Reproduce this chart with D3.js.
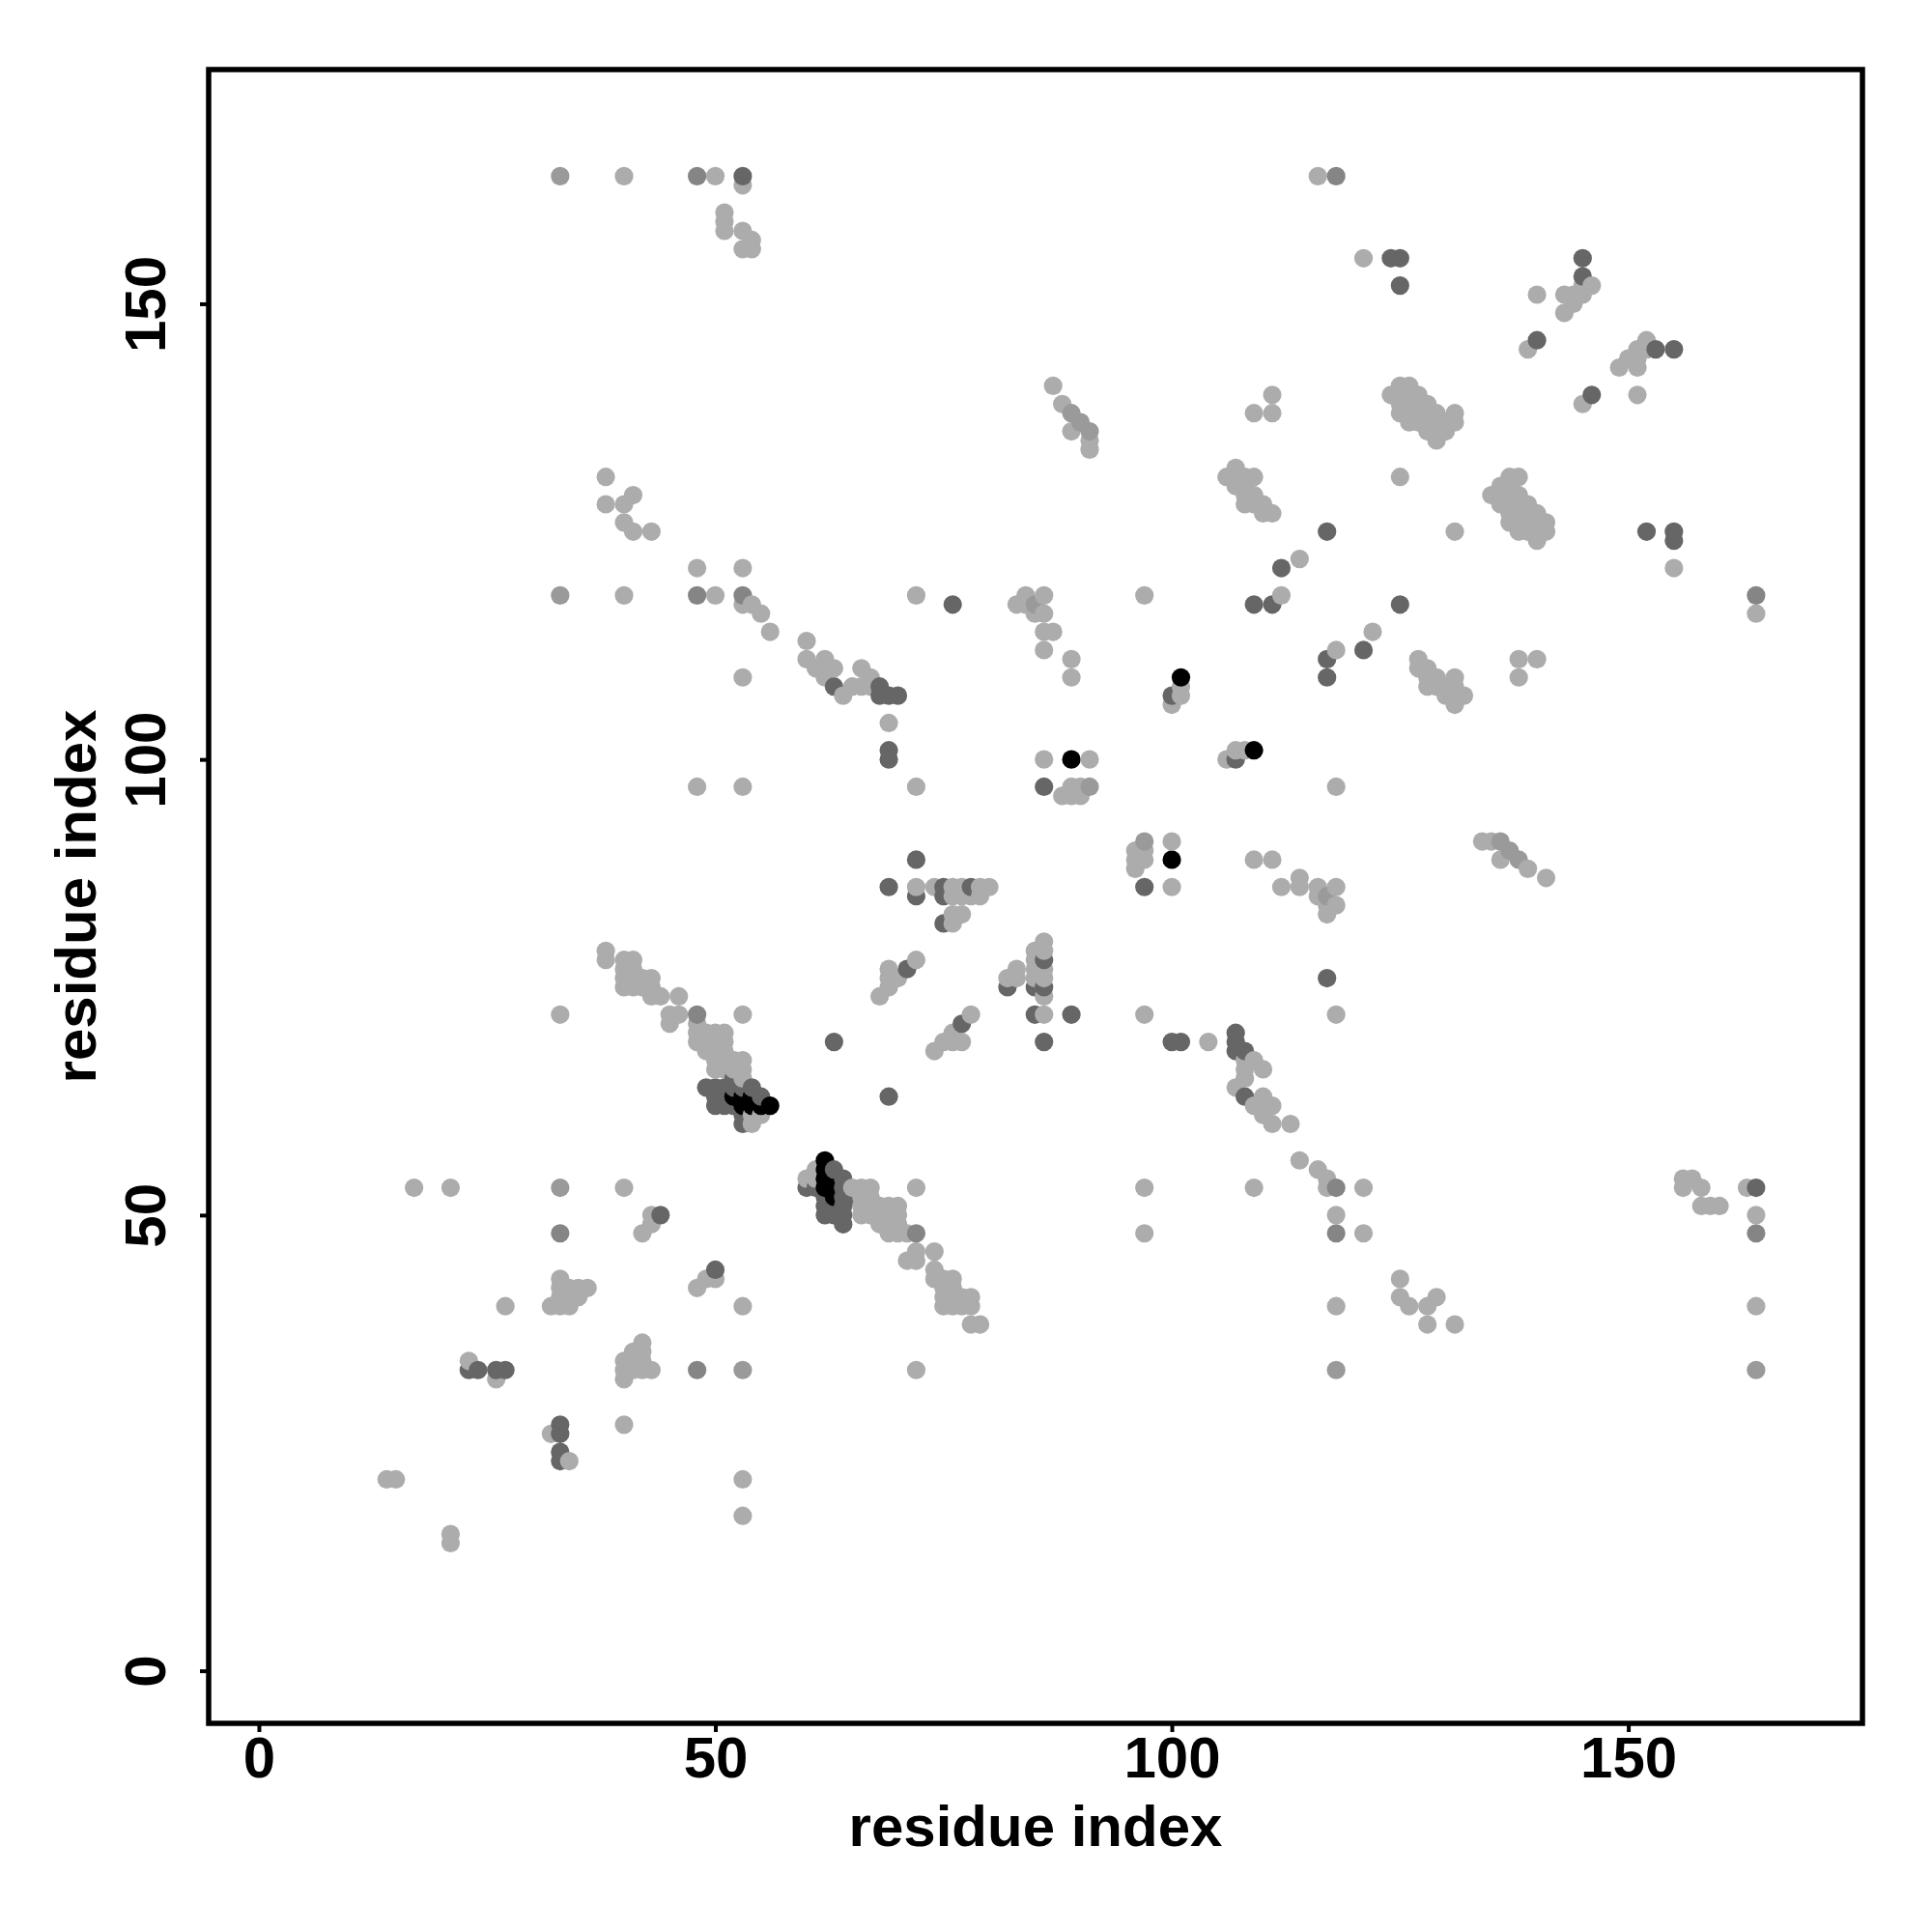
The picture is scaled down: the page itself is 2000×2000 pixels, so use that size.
<!DOCTYPE html>
<html><head><meta charset="utf-8">
<script src="https://cdn.jsdelivr.net/npm/d3@7"></script>
<style>html,body{margin:0;background:#fff}svg{display:block}text{font-family:"Liberation Sans",Arial,sans-serif;font-weight:700;fill:#000}</style>
</head><body><svg id="c" width="2000" height="2000"></svg>
<script>
const xyTicks=[0,50,100,150];
const axisTitle="residue index";
// residue contacts; the map is symmetric, so each pair gets drawn as (i,j) and (j,i)
const lightPairs=[[14,21],[15,21],[17,53],[21,53],[40,53],[42,48],[43,50],[43,49],[33,72],[53,72],[38,79],[38,78],[40,78],[41,78],[40,77],[41,77],[40,76],[41,76],[42,76],[40,75],[41,75],[42,75],[43,75],[43,76],[43,74],[44,74],[46,74],[45,72],[46,72],[45,71],[48,70],[49,70],[50,70],[51,70],[48,69],[49,69],[50,69],[51,69],[49,68],[50,68],[51,68],[50,67],[51,67],[52,67],[53,67],[50,66],[51,66],[52,66],[53,66],[53,65],[54,61],[54,60],[55,61],[33,43],[33,42],[34,42],[35,42],[36,42],[33,41],[34,41],[35,41],[32,40],[33,40],[34,40],[27,40],[53,40],[48,42],[49,43],[50,43],[23,34],[26,32],[40,27],[53,17],[53,21],[34,23],[32,26],[21,15],[21,14],
[68,74],[69,75],[69,76],[70,76],[69,77],[72,78],[75,69],[76,69],[76,70],[77,69],[78,72],[72,86],[74,86],[76,86],[76,85],[77,86],[77,85],[79,86],[79,85],[78,85],[80,86],[76,82],[76,83],[77,83],[96,90],[97,90],[96,89],[97,89],[96,88],[100,91],[91,100],[86,100],[89,109],[89,111],[86,112],[86,114],[87,114],[85,116],[86,116],[84,117],[83,117],[84,118],[86,118],[86,80],[86,79],[85,79],[85,78],[85,77],[86,77],[86,76],[85,76],[83,77],[82,76],[83,76],[86,74],[86,72],[97,72],[104,69],[67,109],[69,104],[40,118],[53,117],[54,117],[55,116],[56,114],[53,121],[48,121],[50,118],[53,109],[48,97],[53,97],[60,113],[60,111],[62,111],[61,110],[62,110],[63,110],[62,109],[64,107],[65,108],[66,108],[67,108],[66,110],[66,52],[66,51],[66,50],[67,51],[67,50],[68,51],[68,50],[68,49],[69,51],[70,51],[69,50],[70,50],[69,49],[70,49],[69,48],[70,48],[71,48],[72,118],[72,97],[72,46],[72,45],[71,45],[74,46],[74,44],[74,43],[76,43],[75,42],[76,41],[75,41],[75,40],[76,40],[77,40],[78,41],[78,40],[78,38],[79,38],
[110,66],[110,63],[109,62],[110,62],[111,62],[110,61],[111,60],[113,60],[97,118],[91,134],[91,135],[89,136],[88,139],[87,141],[89,97],[90,97],[88,96],[89,96],[90,96],[109,89],[111,89],[109,138],[111,138],[111,140],[106,131],[107,131],[108,131],[109,131],[107,132],[107,130],[108,130],[108,129],[109,129],[108,128],[109,128],[110,128],[110,127],[111,127],[114,122],[112,118],[122,114],[118,112],[127,111],[127,110],[128,110],[128,109],[129,109],[131,109],[128,108],[129,108],[130,108],[131,108],[130,107],[131,107],[132,107],[131,106],[138,111],[140,111],[138,109],[101,108],[101,107],[100,106],[107,101],[108,101],[106,100],
[116,164],[40,164],[50,164],[53,163],[51,160],[51,159],[51,158],[53,158],[54,157],[53,156],[54,156],[164,50],[164,116],[121,155],[146,152],[145,151],[144,151],[143,151],[144,150],[143,149],[140,151],[139,145],[152,146],[151,145],[152,145],[150,144],[151,144],[149,143],[151,143],[151,140],[145,139],[125,131],[131,125],[155,121],[158,53],[158,51],[159,51],[160,51],[156,53],[156,54],[157,54],
[137,131],[138,131],[136,130],[137,130],[135,129],[136,129],[137,129],[138,129],[136,128],[137,128],[138,128],[139,128],[137,127],[138,127],[139,127],[140,127],[138,126],[139,126],[140,126],[141,126],[138,125],[139,125],[140,125],[141,125],[140,124],
[124,140],[125,141],[126,141],[125,140],[126,140],[127,140],[125,139],[126,139],[127,139],[128,139],[125,138],[126,138],[127,138],[128,138],[129,138],[126,137],[127,137],[128,137],[129,137],[130,137],[131,137],[131,138],[128,136],[129,136],[130,136],[129,135],
[109,53],[125,43],[125,41],[126,40],[128,40],[129,41],[128,38],[131,38],[134,91],[135,91],[139,88],[141,87],[114,87],[116,86],[117,83]];
const midPairs=[[33,53],[33,118],[85,117],[97,91],[91,136],[90,137],[89,138],[91,97],[33,164]];
const grayPairs=[[33,48],[48,72],[48,118],[53,118],[48,164],[118,164]];
const darkPairs=[[44,50],[23,33],[24,33],[26,33],[27,33],[49,64],[50,64],[51,64],[52,64],[53,64],[54,64],[50,63],[51,63],[50,62],[51,62],[52,62],[55,63],[52,65],[53,61],[53,60],[63,69],[71,77],[72,89],[69,86],[72,85],[75,86],[75,85],[78,86],[75,82],[86,97],[86,78],[82,75],[85,75],[86,75],[85,72],[89,72],[86,69],[100,69],[101,69],[107,70],[107,69],[107,68],[108,68],[63,108],[68,108],[68,107],[69,107],[70,107],[69,101],[69,100],[76,117],[117,125],[112,121],[109,117],[111,117],[121,112],[117,111],[117,109],[100,107],[125,117],[124,155],[125,155],[125,152],[145,155],[145,153],[140,146],[153,145],[155,145],[146,140],[152,125],[155,125],[155,124],[53,164]];
const blackPairs=[[52,63],[53,63],[53,62],[54,63],[54,62],[55,62],[56,62],[89,100],[101,109]];
const shades=["#acacac","#9a9a9a","#858585","#666666","#000000"];
const groups=[lightPairs,midPairs,grayPairs,darkPairs,blackPairs];

const svg=d3.select("#c");
const frameL=216,frameR=1928,frameT=72,frameB=1784;
const fs=60;
const x=d3.scaleLinear().domain([-5.5,175.65]).range([frameL,frameR]);
const y=d3.scaleLinear().domain([-5.77,175.7]).range([frameB,frameT]);
const m=new Map();
groups.forEach((g,k)=>g.forEach(([a,b])=>{
  const i=Math.min(a,b),j=Math.max(a,b),key=i+"-"+j;
  if(!m.has(key)||m.get(key).k<k)m.set(key,{i,j,k});
}));
const pts=[];
m.forEach(({i,j,k})=>{pts.push({x:i,y:j,k});pts.push({x:j,y:i,k});});
pts.sort((a,b)=>a.x-b.x||a.y-b.y);
svg.append("g").selectAll("circle").data(pts).join("circle")
 .attr("cx",d=>x(d.x)).attr("cy",d=>y(d.y)).attr("r",9.6).attr("fill",d=>shades[d.k]);
svg.append("rect").attr("x",frameL).attr("y",frameT).attr("width",frameR-frameL).attr("height",frameB-frameT)
 .attr("fill","none").attr("stroke","#000").attr("stroke-width",5.5);
const ax=svg.append("g").attr("transform",`translate(0,${frameB})`).call(d3.axisBottom(x).tickValues(xyTicks).tickSize(9));
const ay=svg.append("g").attr("transform",`translate(${frameL},0)`).call(d3.axisLeft(y).tickValues(xyTicks).tickSize(9));
ax.select(".domain").remove();ay.select(".domain").remove();
[ax,ay].forEach(a=>{a.selectAll("line").attr("stroke","#000").attr("stroke-width",4);
  a.selectAll("text").attr("font-size",fs).attr("fill","#000").style("font-family",'"Liberation Sans"').style("font-weight",700);});
ax.selectAll("text").attr("y",56).attr("dy",0);
ay.selectAll("text").attr("text-anchor","middle").attr("dy",0).attr("x",0).attr("y",0)
 .attr("transform","translate(-45,0) rotate(-90)");
svg.append("text").attr("x",(frameL+frameR)/2).attr("y",1911).attr("text-anchor","middle").attr("font-size",fs).text(axisTitle);
svg.append("text").attr("transform",`translate(99,${(frameT+frameB)/2}) rotate(-90)`).attr("text-anchor","middle").attr("font-size",fs).text(axisTitle);
</script></body></html>
